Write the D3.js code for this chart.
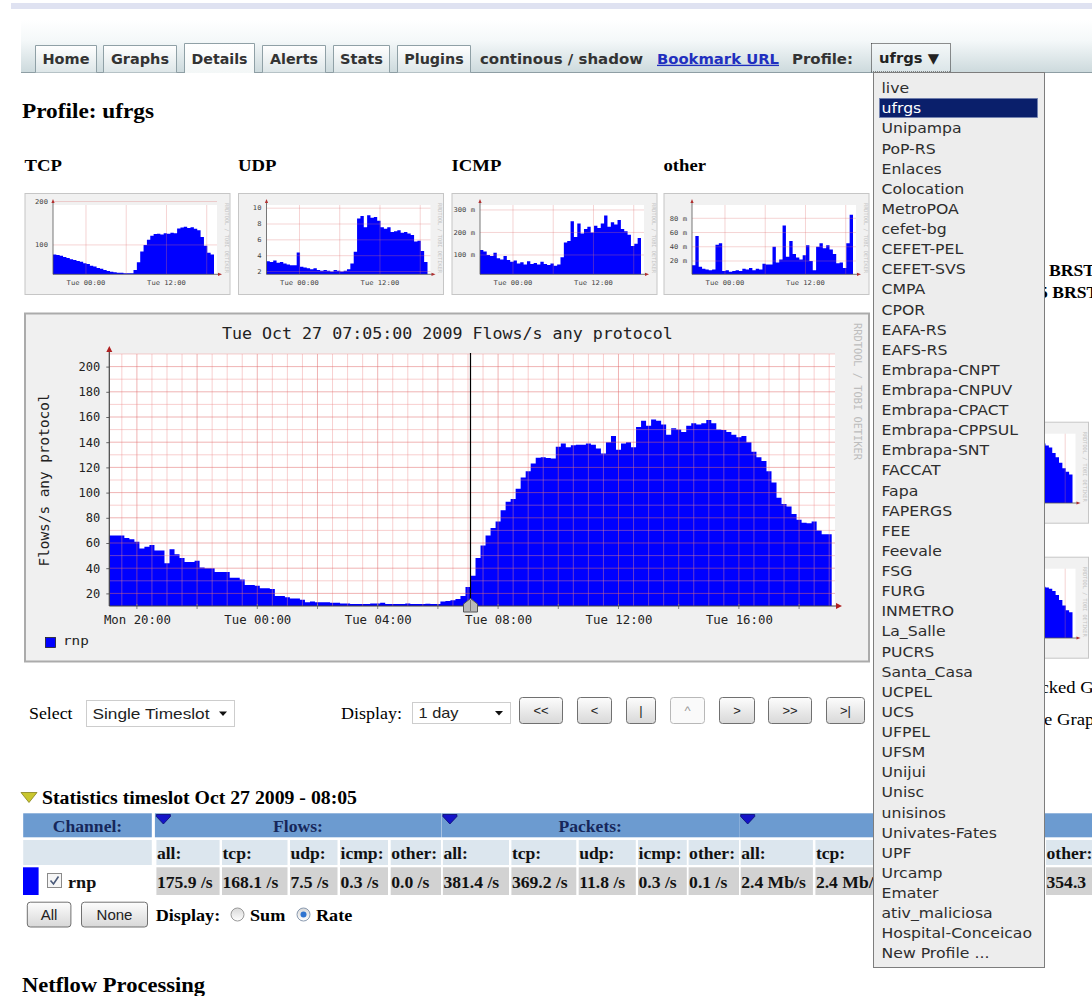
<!DOCTYPE html>
<html>
<head>
<meta charset="utf-8">
<title>NfSen - Details - ufrgs</title>
<script src="https://cdn.jsdelivr.net/npm/d3@7/dist/d3.min.js"></script>
<style>
html,body{margin:0;padding:0;background:#fff;overflow:hidden;}
svg{display:block;}
</style>
</head>
<body>
<svg id="page" width="1092" height="996" viewBox="0 0 1092 996"></svg>
<script>
// ================= DATA =================
const navTabs = ["Home", "Graphs", "Details", "Alerts", "Stats", "Plugins"];
const activeTab = "Details";
const navExtra = ["continous / shadow", "Bookmark URL", "Profile:"];
const profileName = "ufrgs";
const profiles = ["live","ufrgs","Unipampa","PoP-RS","Enlaces","Colocation","MetroPOA","cefet-bg",
  "CEFET-PEL","CEFET-SVS","CMPA","CPOR","EAFA-RS","EAFS-RS","Embrapa-CNPT","Embrapa-CNPUV",
  "Embrapa-CPACT","Embrapa-CPPSUL","Embrapa-SNT","FACCAT","Fapa","FAPERGS","FEE","Feevale","FSG",
  "FURG","INMETRO","La_Salle","PUCRS","Santa_Casa","UCPEL","UCS","UFPEL","UFSM","Unijui","Unisc",
  "unisinos","Univates-Fates","UPF","Urcamp","Emater","ativ_maliciosa","Hospital-Conceicao","New Profile ..."];

const thumbTitles = ["TCP", "UDP", "ICMP", "other"];

const mainTitle = "Tue Oct 27 07:05:00 2009 Flows/s any protocol";
const mainYLabel = "Flows/s any protocol";
const mainStart = "2009-10-26 19:05";
const mainStepMinutes = 10;
const cursorTime = "2009-10-27 07:05";
// Flows/s any protocol, channel rnp, 10-minute steps from Mon 19:05
const flowsAny = [
  66,66,66,64,63,61,55.7,57,58.4,54,
  54,44,55,51,48,45,45,46,40.5,40,
  40,37,37,37,32.4,32.4,31,26.6,26.6,26,
  24,24,23.5,18,18,17,16,16,15,13,
  13.5,13,13,13,12.5,12.5,12,12,11.5,11.5,
  11.5,11.5,12,12,12.5,11.5,11.5,11.5,11.5,12,
  11.5,11.5,11.5,11.8,11.5,11.5,13.5,14,14.5,15.5,
  18,25,34,48,58,66,72,77,86,92.8,
  95,103,112,117,123,127.7,128,127.5,127,136.4,
  139,136,137.5,138,138,139,138,135,131,140,
  145,134,139,140,136,152,157,153,158,157,
  154,146,151,150,148,153,155,154,155,157.6,
  155,150,149.7,148,146,144,145,140,132.5,128,
  125,117,108,96,91,89,83,78.5,76,75.6,
  77,70,67,67
];
const yTickValues = [20, 40, 60, 80, 100, 120, 140, 160, 180, 200];
const xTickTimes = ["2009-10-26 20:00","2009-10-27 00:00","2009-10-27 04:00","2009-10-27 08:00","2009-10-27 12:00","2009-10-27 16:00"];
const xTickLabels = ["Mon 20:00","Tue 00:00","Tue 04:00","Tue 08:00","Tue 12:00","Tue 16:00"];
const legendChannels = ["rnp"];
const watermark = "RRDTOOL / TOBI OETIKER";

// thumbnails, 30-minute steps from Mon 19:05
const thumbStepMinutes = 30;
const thumbTCP = [78,77,75,72,70,67,65,63,61,58, 56,52,50,47,45,42,40,38,37,36,
  36,35,35,35,42,60,85,100,112,121, 125,126,124,127,126,128,127,138,140,142,
  139,141,137,134,118,98,82,78];
const thumbUDP = [3.3,3.2,3.4,3.1,3.2,3.0,2.9,2.8,2.8,4.4, 2.6,2.5,2.4,2.3,2.4,2.2,2.1,2.2,2.1,2.0,
  2.2,2.1,2.0,2.1,2.3,3.0,4.5,8.7,9.0,7.6, 9.1,8.8,8.9,8.4,7.6,7.4,7.6,7.0,7.1,7.2,
  6.9,7.0,6.8,6.6,5.8,5.9,4.6,3.2];
const thumbICMP = [122,115,100,95,110,85,80,95,78,70, 75,62,68,58,72,60,64,58,70,60,
  55,62,52,58,90,155,162,250,180,240, 195,215,225,200,230,220,240,275,225,245,
  235,255,215,205,190,140,150,175];
const thumbOther = [14,55,12,9,8,7,8,43,45,6, 7,5,6,7,6,9,8,10,7,9,
  8,16,15,15,40,18,22,70,26,48, 30,25,22,28,42,20,7,40,45,38,
  42,36,30,17,18,10,45,85];
const thumbSideA = [40,38,36,33,31,29,27,25,23,21, 19,17,15,13,12,11,10,10,9,9,
  9,9,9,9,12,20,35,50,62,70, 74,76,77,78,79,80,82,84,85,86,
  83,80,72,66,58,50,45,41];
const thumbSideB = [35,33,31,29,27,25,23,21,19,17, 15,14,13,12,11,10,10,9,9,9,
  9,9,9,9,11,18,30,44,55,62, 66,68,69,70,71,72,73,74,74,74,
  73,71,68,62,55,47,40,37];
const thumbTCPTicks = [100, 200];
const thumbTCPTickLabels = ["100", "200"];
const thumbUDPTicks = [2, 4, 6, 8, 10];
const thumbUDPTickLabels = ["2", "4", "6", "8", "10"];
const thumbICMPTicks = [100, 200, 300];
const thumbICMPTickLabels = ["100 m", "200 m", "300 m"];
const thumbOtherTicks = [20, 40, 60, 80];
const thumbOtherTickLabels = ["20 m", "40 m", "60 m", "80 m"];
const thumbXTickTimes = ["2009-10-27 00:00", "2009-10-27 12:00"];
const thumbXTickLabels = ["Tue 00:00", "Tue 12:00"];

// controls
const selectOptions = ["Single Timeslot"];
const displayOptions = ["1 day"];
const navButtons = ["<<", "<", "|", "^", ">", ">>", ">|"];
const disabledButton = "^";

// statistics table
const statsTitle = "Statistics timeslot Oct 27 2009 - 08:05";
const statGroups = ["Flows:", "Packets:", "Bytes:"];
const statColumns = ["all:", "tcp:", "udp:", "icmp:", "other:"];
const statChannel = "rnp";
const flowValues = ["175.9 /s", "168.1 /s", "7.5 /s", "0.3 /s", "0.0 /s"];
const packetValues = ["381.4 /s", "369.2 /s", "11.8 /s", "0.3 /s", "0.1 /s"];
const byteValues = ["2.4 Mb/s", "2.4 Mb/s", null, null, "354.3"];

// ================= DRAWING =================
const svg = d3.select("#page");
const SERIF = "'Liberation Serif','Times New Roman',serif";
const SANS = "'DejaVu Sans',Verdana,sans-serif";
const ARIAL = "'Liberation Sans',Arial,sans-serif";
const MONO = "'DejaVu Sans Mono',monospace";
const BLUE = "#0000ff";
const LIST_X0 = 873, LIST_X1 = 1045;   // open profile list covers this band

function txt(g, s, x, cy, o = {}) {
  const fs = o.fs || 16;
  const t = g.append("text")
    .attr("x", x).attr("y", cy + (o.dy != null ? o.dy : 0.35 * fs))
    .attr("font-family", o.ff || SERIF).attr("font-size", fs)
    .attr("font-weight", o.fw || "normal").attr("fill", o.fill || "#000")
    .attr("text-anchor", o.anchor || "start").text(s);
  if (o.deco) t.attr("text-decoration", o.deco);
  if (o.clip) t.attr("clip-path", o.clip);
  if (o.w) t.attr("textLength", o.w).attr("lengthAdjust", "spacingAndGlyphs");
  else if (o.sx) {
    const L = t.node().getComputedTextLength();
    t.attr("textLength", L * o.sx).attr("lengthAdjust", "spacingAndGlyphs");
  }
  return t;
}

const defs = svg.append("defs");
function lg(id, stops) {
  const g = defs.append("linearGradient").attr("id", id)
    .attr("x1", 0).attr("y1", 0).attr("x2", 0).attr("y2", 1);
  stops.forEach(([o, c]) => g.append("stop").attr("offset", o).attr("stop-color", c));
}
lg("navbg", [[0, "#ffffff"], [0.4, "#f4f8f9"], [1, "#cddadd"]]);
lg("tabbg", [[0, "#ffffff"], [1, "#dde6e8"]]);
lg("tabact", [[0, "#ffffff"], [1, "#f3f7f7"]]);
lg("btnbg", [[0, "#fdfdfd"], [1, "#d8d8d8"]]);
lg("radbg", [[0, "#d8d8d8"], [1, "#ffffff"]]);
lg("headbg", [[0, "#f4f8f9"], [1, "#dbe5e8"]]);
defs.append("clipPath").attr("id", "leftOfList").append("rect")
  .attr("x", 0).attr("y", 0).attr("width", LIST_X0).attr("height", 996);
defs.append("clipPath").attr("id", "page").append("rect")
  .attr("x", 0).attr("y", 0).attr("width", 1092).attr("height", 996);

// ---- top strip & nav bar ----
svg.append("rect").attr("x", 11).attr("y", 3).attr("width", 1081).attr("height", 6).attr("fill", "#dfe2f1");
svg.append("rect").attr("x", 21).attr("y", 20).attr("width", 1071).attr("height", 52).attr("fill", "url(#navbg)");
svg.append("line").attr("x1", 21).attr("x2", 1092).attr("y1", 72.5).attr("y2", 72.5).attr("stroke", "#8e9ea4");

const tabLayout = [[35, 97, 47], [103, 177, 58], [184, 255, 56], [262, 326, 48], [333, 390, 43], [397, 471, 59.5]];
navTabs.forEach((name, i) => {
  const [a, b, w] = tabLayout[i];
  const act = name === activeTab;
  const top = act ? 43 : 45;
  svg.append("path")
    .attr("d", `M${a + 0.5},${act ? 73 : 72.5} V${top + 0.5} H${b - 0.5} V${act ? 73 : 72.5}`)
    .attr("fill", act ? "url(#tabact)" : "url(#tabbg)").attr("stroke", "#8fa0a6");
  txt(svg, name, (a + b) / 2, 59, { ff: SANS, fw: "bold", fs: 13.5, fill: "#333", anchor: "middle", w: w });
});
txt(svg, navExtra[0], 480, 59, { ff: SANS, fw: "bold", fs: 13.5, fill: "#333", w: 163 });
txt(svg, navExtra[1], 657, 59, { ff: SANS, fw: "bold", fs: 13.5, fill: "#1f2fbf", w: 122, deco: "underline" });
txt(svg, navExtra[2], 792, 59, { ff: SANS, fw: "bold", fs: 13.5, fill: "#333", w: 61 });

// ---- profile heading & thumbnail titles ----
txt(svg, "Profile: " + profileName, 22, 111, { fw: "bold", fs: 21, w: 132 });

const parseT = d3.timeParse("%Y-%m-%d %H:%M");
const t0 = parseT(mainStart);
const tEnd = d3.timeMinute.offset(t0, flowsAny.length * mainStepMinutes);

function drawThumb(L, T, W, data, lo, hi, ticks, tickLabels, withLabels) {
  const g = svg.append("g");
  g.append("rect").attr("x", L + 0.5).attr("y", T + 0.5).attr("width", W - 1).attr("height", 101)
    .attr("fill", "#f1f1f1").attr("stroke", "#c6c6c6");
  const x0 = L + 28.5, x1 = L + W - 16.5;
  const base = T + 81.3, top = T + 12;
  const tx = d3.scaleTime().domain([t0, tEnd]).range([x0, x1]);
  const ty = d3.scaleLinear().domain([lo, hi]).range([base, top]);
  g.append("rect").attr("x", x0).attr("y", top).attr("width", x1 - x0 + 3).attr("height", base - top).attr("fill", "#fff");
  const pts = data.map((v, i) => ({ t: d3.timeMinute.offset(t0, i * thumbStepMinutes), v }));
  pts.push({ t: tEnd, v: data[data.length - 1] });
  g.append("path").datum(pts)
    .attr("d", d3.area().x(d => tx(d.t)).y0(base).y1(d => ty(Math.max(lo, d.v))).curve(d3.curveStepAfter))
    .attr("fill", BLUE);
  // grid
  d3.timeHour.every(6).range(t0, tEnd).forEach(t => {
    g.append("line").attr("x1", tx(t)).attr("x2", tx(t)).attr("y1", top).attr("y2", base)
      .attr("stroke", "rgba(225,120,120,0.4)").attr("stroke-width", 0.8);
  });
  ticks.forEach((v, i) => {
    g.append("line").attr("x1", x0).attr("x2", x1 + 3).attr("y1", ty(v)).attr("y2", ty(v))
      .attr("stroke", "rgba(225,120,120,0.4)").attr("stroke-width", 0.8);
    if (withLabels) txt(g, tickLabels[i], x0 - 5, ty(v), { ff: MONO, fs: 6.5, fill: "#444", anchor: "end", sx: 1.1 });
  });
  // axes
  g.append("line").attr("x1", x0).attr("x2", x1 + 5).attr("y1", base).attr("y2", base).attr("stroke", "#555").attr("stroke-width", 0.8);
  g.append("line").attr("x1", x0).attr("x2", x0).attr("y1", top - 3).attr("y2", base).attr("stroke", "#555").attr("stroke-width", 0.8);
  g.append("path").attr("d", `M${x1 + 8},${base} l-4,-1.6 v3.2 z`).attr("fill", "#b03030");
  g.append("path").attr("d", `M${x0},${top - 6} l-1.6,4 h3.2 z`).attr("fill", "#b03030");
  if (withLabels) {
    thumbXTickTimes.forEach((s, i) => {
      txt(g, thumbXTickLabels[i], tx(parseT(s)), T + 90, { ff: MONO, fs: 6.5, fill: "#444", anchor: "middle", sx: 1.1 });
    });
  }
  // watermark
  const wx = L + W - 6, wy = T + 10;
  g.append("text").attr("transform", `translate(${wx},${wy}) rotate(90)`)
    .attr("font-family", MONO).attr("font-size", 5.5).attr("fill", "#c4c4c4")
    .attr("textLength", 70).attr("lengthAdjust", "spacingAndGlyphs").text(watermark);
}

const thumbLefts = [24.5, 238, 451.5, 663.5];
const thumbSets = [
  [thumbTCP, 32.3, 192, thumbTCPTicks, thumbTCPTickLabels],
  [thumbUDP, 1.65, 10.4, thumbUDPTicks, thumbUDPTickLabels],
  [thumbICMP, 14.2, 322, thumbICMPTicks, thumbICMPTickLabels],
  [thumbOther, 1.3, 98.7, thumbOtherTicks, thumbOtherTickLabels]
];
thumbTitles.forEach((name, i) => {
  txt(svg, name, thumbLefts[i], 165, { fw: "bold", fs: 17, sx: 1.1 });
  const s = thumbSets[i];
  drawThumb(thumbLefts[i], 193, 206, s[0], s[1], s[2], s[3], s[4], true);
});
// right-hand column thumbnails (mostly covered by the profile list)
drawThumb(882, 421.7, 207, thumbSideA, 0, 100, [], [], false);
drawThumb(882, 556.7, 207, thumbSideB, 0, 100, [], [], false);
txt(svg, "BRST", 1049, 270, { fw: "bold", fs: 16, sx: 1.1 });
txt(svg, "5 BRST", 1039, 292, { fw: "bold", fs: 16, sx: 1.1 });
txt(svg, "Stacked Graph", 1016.5, 687, { fs: 17, sx: 1.1, clip: "url(#page)" });
txt(svg, "Line Graph", 1018, 719, { fs: 17, sx: 1.1, clip: "url(#page)" });

// ---- main graph ----
const gm = svg.append("g");
gm.append("rect").attr("x", 25).attr("y", 313.5).attr("width", 844).attr("height", 348)
  .attr("fill", "#f0f0f0").attr("stroke", "#ababab").attr("stroke-width", 2);
const mx = d3.scaleTime().domain([t0, tEnd]).range([109.3, 831.7]);
const my = d3.scaleLinear().domain([10, 210]).range([606, 354]);
gm.append("rect").attr("x", 109.3).attr("y", 354).attr("width", 835 - 109.3).attr("height", 252).attr("fill", "#fff");

const mainPts = flowsAny.map((v, i) => ({ t: d3.timeMinute.offset(t0, i * mainStepMinutes), v }));
mainPts.push({ t: tEnd, v: flowsAny[flowsAny.length - 1] });
gm.append("path").datum(mainPts)
  .attr("d", d3.area().x(d => mx(d.t)).y0(my(10)).y1(d => my(d.v)).curve(d3.curveStepAfter))
  .attr("fill", BLUE);

// grid on top of data (rrdtool style)
const minorC = "rgba(238,140,140,0.42)", majorC = "rgba(226,105,105,0.5)";
d3.timeMinute.every(30).range(d3.timeMinute.offset(t0, 1), tEnd).forEach(t => {
  const major = t.getMinutes() === 0 && t.getHours() % 2 === 0;
  gm.append("line").attr("x1", mx(t)).attr("x2", mx(t)).attr("y1", 354).attr("y2", 606)
    .attr("stroke", major ? majorC : minorC).attr("stroke-width", 1);
  if (major) gm.append("line").attr("x1", mx(t)).attr("x2", mx(t)).attr("y1", 604).attr("y2", 609).attr("stroke", "#888");
});
d3.range(20, 211, 10).forEach(v => {
  gm.append("line").attr("x1", 109.3).attr("x2", 835).attr("y1", my(v)).attr("y2", my(v))
    .attr("stroke", v % 20 === 0 ? majorC : minorC).attr("stroke-width", 1);
});

// cursor
const ct = parseT(cursorTime);
gm.append("line").attr("x1", mx(ct)).attr("x2", mx(ct)).attr("y1", 353).attr("y2", 606).attr("stroke", "#000").attr("stroke-width", 1.2);

// axes
const yAxis = gm.append("g").attr("transform", "translate(109.3,0)")
  .call(d3.axisLeft(my).tickValues(yTickValues).tickSize(3).tickPadding(6));
yAxis.select(".domain").remove();
yAxis.selectAll(".tick line").attr("stroke", "#666");
yAxis.selectAll("text").attr("font-family", MONO).attr("font-size", 12).attr("fill", "#222")
  .attr("textLength", d => String(d).length * 7.25).attr("lengthAdjust", "spacingAndGlyphs");

const xAxis = gm.append("g").attr("transform", "translate(0,606)")
  .call(d3.axisBottom(mx).tickValues(xTickTimes.map(parseT)).tickFormat((d, i) => xTickLabels[i]).tickSize(0).tickPadding(10));
xAxis.select(".domain").remove();
xAxis.selectAll("text").attr("font-family", MONO).attr("font-size", 11.8).attr("fill", "#222")
  .attr("textLength", 67).attr("lengthAdjust", "spacingAndGlyphs");

gm.append("line").attr("x1", 109.3).attr("x2", 838).attr("y1", 606).attr("y2", 606).attr("stroke", "#444").attr("stroke-width", 1.2);
gm.append("line").attr("x1", 109.3).attr("x2", 109.3).attr("y1", 350).attr("y2", 606).attr("stroke", "#444").attr("stroke-width", 1.2);
gm.append("path").attr("d", "M842,606 l-6,-3 v6 z").attr("fill", "#b02020");
gm.append("path").attr("d", "M109.3,346 l-3,6 h6 z").attr("fill", "#b02020");

// cursor marker
const cx = mx(ct);
gm.append("path").attr("d", `M${cx - 7},612 V604 L${cx},598.5 L${cx + 7},604 V612 Z`)
  .attr("fill", "#b8b8b8").attr("stroke", "#555").attr("stroke-width", 1);
gm.append("line").attr("x1", cx).attr("x2", cx).attr("y1", 600).attr("y2", 611).attr("stroke", "#777");

// titles
txt(gm, mainTitle, 447.4, 334, { ff: MONO, fs: 15, fill: "#222", anchor: "middle", w: 451 });
gm.append("text").attr("transform", "translate(49,480) rotate(-90)")
  .attr("font-family", MONO).attr("font-size", 14.4).attr("fill", "#222").attr("text-anchor", "middle")
  .attr("textLength", 173).attr("lengthAdjust", "spacingAndGlyphs").text(mainYLabel);
gm.append("text").attr("transform", "translate(853.5,323) rotate(90)")
  .attr("font-family", MONO).attr("font-size", 10).attr("fill", "#bdbdbd")
  .attr("textLength", 137).attr("lengthAdjust", "spacingAndGlyphs").text(watermark);

// legend
legendChannels.forEach((c, i) => {
  gm.append("rect").attr("x", 45.5).attr("y", 637.5).attr("width", 10).attr("height", 10)
    .attr("fill", BLUE).attr("stroke", "#222").attr("stroke-width", 0.8);
  txt(gm, c, 63, 641, { ff: MONO, fs: 13, fill: "#222", dy: 4, sx: 1.1 });
});

// ---- control row ----
function button(x0, x1, y0, y1, label, disabled, ff, fs) {
  svg.append("rect").attr("x", x0 + 0.5).attr("y", y0 + 0.5).attr("width", x1 - x0 - 1).attr("height", y1 - y0 - 1)
    .attr("rx", 3).attr("fill", disabled ? "#fafafa" : "url(#btnbg)")
    .attr("stroke", disabled ? "#b8b8b8" : "#707070");
  txt(svg, label, (x0 + x1) / 2, (y0 + y1) / 2, { ff: ff || ARIAL, fs: fs || 13, fill: disabled ? "#9a9a9a" : "#222", anchor: "middle" });
}
function selectBox(x0, x1, y0, y1, label, w) {
  svg.append("rect").attr("x", x0 + 0.5).attr("y", y0 + 0.5).attr("width", x1 - x0 - 1).attr("height", y1 - y0 - 1)
    .attr("fill", "#fff").attr("stroke", "#cdcdcd");
  txt(svg, label, x0 + 6.5, (y0 + y1) / 2, { ff: ARIAL, fs: 15, fill: "#222", w: w });
  svg.append("path").attr("d", `M${x1 - 16},${(y0 + y1) / 2 - 2} h8 l-4,4.5 z`).attr("fill", "#111");
}
txt(svg, "Select", 29, 713, { fs: 16.5, sx: 1.08 });
selectBox(86, 235, 700, 727, selectOptions[0], 117);
txt(svg, "Display:", 341, 713, { fs: 16.5, w: 61 });
selectBox(412, 511, 702, 724, displayOptions[0], 40);
const btnLayout = [[519, 563], [577, 612], [626, 656], [670, 705], [719, 755], [768, 812], [826, 865]];
navButtons.forEach((b, i) => button(btnLayout[i][0], btnLayout[i][1], 697, 724, b, b === disabledButton));

// ---- statistics ----
svg.append("path").attr("d", "M21,792.5 H37 L29,802.5 Z").attr("fill", "#c9c62e").attr("stroke", "#85821a").attr("stroke-width", 0.8);
txt(svg, statsTitle, 42, 798, { fw: "bold", fs: 18, w: 315 });

const colEdges = [[156.4, 219.6], [222, 287.5], [290, 337.5], [340, 388], [390.7, 441],
  [442.9, 509], [511.4, 576.3], [578.7, 635.8], [638, 686.8], [688.6, 739],
  [740.7, 812.9], [815.4, 880], [883, 950], [953, 1043], [1046, 1110]];
const rowHead = [813.3, 837.3], rowSub = [840, 865], rowData = [867.3, 895];
const HEAD = "#6c9bd0", SUB = "#dce6ee", DATA = "#d2d2d2", NAVY = "#16275a";
const hiddenByList = x => x >= LIST_X0 && x < LIST_X1;

function cell(x0, x1, r, fill) {
  svg.append("rect").attr("x", x0).attr("y", r[0]).attr("width", x1 - x0).attr("height", r[1] - r[0]).attr("fill", fill);
}
// header row
cell(23.2, 151.8, rowHead, HEAD);
txt(svg, "Channel:", 87.5, 826, { fw: "bold", fs: 16, fill: NAVY, anchor: "middle", sx: 1.1 });
statGroups.forEach((gname, gi) => {
  const a = colEdges[gi * 5][0] - 1.5, b = gi === 2 ? 1100 : colEdges[gi * 5 + 4][1];
  cell(a, b, rowHead, HEAD);
  const center = gi === 2 ? 905 : (a + b) / 2;
  if (!hiddenByList(center - 25)) txt(svg, gname, center, 826, { fw: "bold", fs: 16, fill: NAVY, anchor: "middle", sx: 1.1 });
  svg.append("path").attr("d", `M${a + 1.5},814.5 h14 v2 l-7,7.5 l-7,-7.5 z`)
    .attr("fill", "#1414c8").attr("stroke", "#0a0a70").attr("stroke-width", 0.8);
});
// sub header
cell(23.2, 151.8, rowSub, SUB);
colEdges.forEach((e, i) => {
  cell(e[0], e[1], rowSub, SUB);
  if (!hiddenByList(e[0])) txt(svg, statColumns[i % 5], e[0] + 0.5, 853, { fw: "bold", fs: 16, fill: "#111", sx: 1.1 });
});
// data row
svg.append("rect").attr("x", 23).attr("y", rowData[0]).attr("width", 15.6).attr("height", rowData[1] - rowData[0]).attr("fill", BLUE);
svg.append("rect").attr("x", 47.5).attr("y", 873.5).attr("width", 14).attr("height", 14).attr("fill", "#f6f6f6").attr("stroke", "#8a8a8a");
svg.append("path").attr("d", "M50.5,880.5 l3,3.5 l5,-7.5").attr("fill", "none").attr("stroke", "#4a5a7a").attr("stroke-width", 1.6);
txt(svg, statChannel, 68, 882, { fw: "bold", fs: 16.5, fill: "#111", sx: 1.1 });
const allValues = flowValues.concat(packetValues, byteValues);
colEdges.forEach((e, i) => {
  cell(e[0], e[1], rowData, DATA);
  if (allValues[i] != null && !hiddenByList(e[0])) {
    const partly = e[0] < LIST_X0 && e[1] > LIST_X0;
    txt(svg, allValues[i], e[0] + 0.5, 882, { fw: "bold", fs: 16, fill: "#111", sx: 1.1, clip: partly ? "url(#leftOfList)" : null });
  }
});

// All / None / Display
button(26.8, 71.4, 901.7, 927.5, "All", false, ARIAL, 15);
button(81, 148, 901.7, 927.5, "None", false, ARIAL, 15);
txt(svg, "Display:", 155.7, 915, { fw: "bold", fs: 16.5, sx: 1.1 });
svg.append("circle").attr("cx", 237.5).attr("cy", 914.5).attr("r", 6.5).attr("fill", "url(#radbg)").attr("stroke", "#999");
txt(svg, "Sum", 250, 915, { fw: "bold", fs: 16.5, sx: 1.1 });
svg.append("circle").attr("cx", 303.5).attr("cy", 914.5).attr("r", 6.5).attr("fill", "url(#radbg)").attr("stroke", "#8a9ab0");
svg.append("circle").attr("cx", 303.5).attr("cy", 914.5).attr("r", 3).attr("fill", "#2f74d0");
txt(svg, "Rate", 316, 915, { fw: "bold", fs: 16.5, sx: 1.1 });

txt(svg, "Netflow Processing", 22, 984.5, { fw: "bold", fs: 20.5, sx: 1.1 });

// ---- profile dropdown (open) ----
svg.append("rect").attr("x", 871.5).attr("y", 43.5).attr("width", 79).attr("height", 28.5)
  .attr("fill", "url(#headbg)").attr("stroke", "#222").attr("stroke-dasharray", "1,1");
txt(svg, profileName + " \u25BC", 879, 58, { ff: SANS, fw: "bold", fs: 13.5, fill: "#222", w: 60 });
svg.append("rect").attr("x", LIST_X0 + 0.5).attr("y", 72.5).attr("width", LIST_X1 - LIST_X0 - 1).attr("height", 895)
  .attr("fill", "#ededed").attr("stroke", "#7d7d7d");
profiles.forEach((p, i) => {
  const cy = 88.3 + i * 20.12;
  const sel = p === profileName;
  if (sel) svg.append("rect").attr("x", 879.5).attr("y", cy - 10).attr("width", 158).attr("height", 19)
    .attr("fill", "#0a1f6b").attr("stroke", "#7080b0").attr("stroke-width", 0.8);
  txt(svg, p, 881.5, cy, { ff: SANS, fs: 14, fill: sel ? "#fff" : "#2e2e2e", sx: 1.12 });
});
</script>
</body>
</html>
